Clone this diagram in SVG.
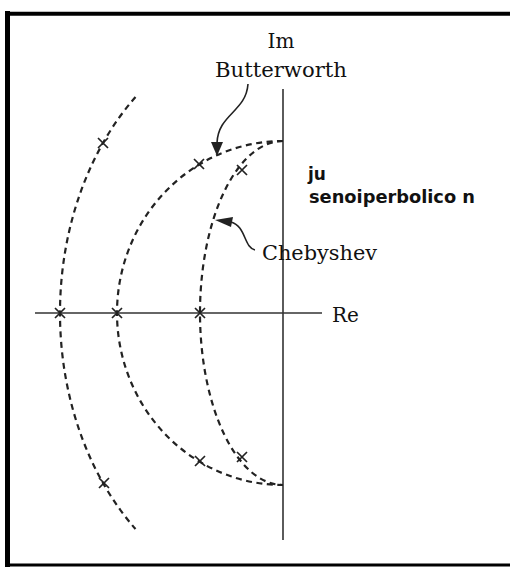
<svg xmlns="http://www.w3.org/2000/svg" width="510" height="567" viewBox="0 0 510 567">
<style>
.frame{stroke:#000;fill:none}
.axis{stroke:#333;stroke-width:1.6;fill:none}
.locus{stroke:#222;stroke-width:2.2;fill:none;stroke-dasharray:6 4.5}
.pole{stroke:#222;stroke-width:1.7;fill:none}
.lead{stroke:#222;stroke-width:1.6;fill:none}
.head{fill:#222}
.serif{font-family:"DejaVu Serif","Liberation Serif",serif;font-size:20px;fill:#111}
.sans{font-family:"DejaVu Sans","Liberation Sans",sans-serif;font-weight:bold;font-size:17px;fill:#111}
</style>
<defs>
<path id="x" d="M-5,-5 L5,5 M-5,5 L5,-5"/>
</defs>
<rect width="510" height="567" fill="#fff"/>
<g id="frame">
<line class="frame" x1="7.5" y1="11" x2="7.5" y2="567" stroke-width="5"/>
<line class="frame" x1="5" y1="13.7" x2="510" y2="13.7" stroke-width="4"/>
<line class="frame" x1="5" y1="565" x2="510" y2="565" stroke-width="3"/>
</g>
<g id="axes">
<line class="axis" x1="283" y1="89" x2="283" y2="540"/>
<line class="axis" x1="35" y1="313" x2="322" y2="313"/>
</g>
<g id="connectors">
<path class="locus" d="M135.5,97 A223,288 0 0 0 135.5,529"/>
<path class="locus" d="M283,141 A166,172 0 0 0 283,485"/>
<path class="locus" d="M283,141 A83,172 0 0 0 283,485"/>
<path class="lead" d="M248,84 C246,112 218,114 217,143"/>
<path class="head" d="M211,142 L223,142 L217,156 Z"/>
<path class="lead" d="M255,250 C244,248 246,226 231,222"/>
<path class="head" d="M215,220 L233,217 L231,227 Z"/>
</g>
<g id="poles">
<use href="#x" class="pole" x="103" y="143"/>
<use href="#x" class="pole" x="60" y="313"/>
<use href="#x" class="pole" x="104" y="483"/>
<use href="#x" class="pole" x="199" y="164"/>
<use href="#x" class="pole" x="117" y="313"/>
<use href="#x" class="pole" x="200" y="461"/>
<use href="#x" class="pole" x="242" y="170"/>
<use href="#x" class="pole" x="200" y="313"/>
<use href="#x" class="pole" x="242" y="457"/>
</g>
<g id="labels">
<text class="serif" x="281" y="48" text-anchor="middle">Im</text>
<text class="serif" x="281" y="77" text-anchor="middle" textLength="132" lengthAdjust="spacingAndGlyphs">Butterworth</text>
<text class="serif" x="262" y="260" textLength="115" lengthAdjust="spacingAndGlyphs">Chebyshev</text>
<text class="serif" x="332" y="322">Re</text>
<text class="sans" x="308" y="180">ju</text>
<text class="sans" x="309" y="203" textLength="166" lengthAdjust="spacingAndGlyphs">senoiperbolico n</text>
</g>
</svg>
